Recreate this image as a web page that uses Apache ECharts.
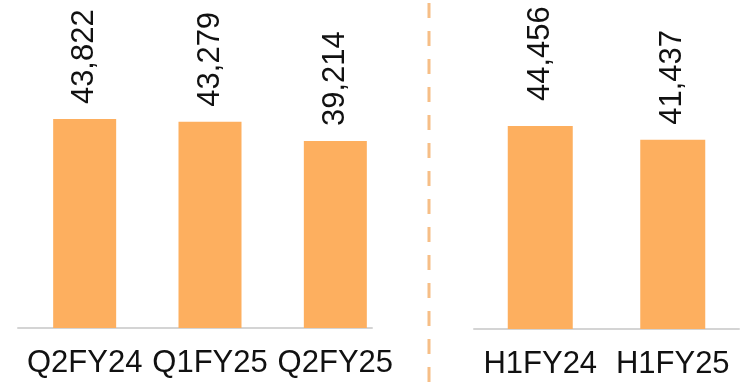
<!DOCTYPE html>
<html>
<head>
<meta charset="utf-8">
<script src="https://cdn.jsdelivr.net/npm/echarts@6/dist/echarts.min.js"></script>
<style>
  html, body { margin: 0; padding: 0; background: #ffffff; }
  #chart { width: 756px; height: 386px; }
</style>
</head>
<body>
<div id="chart"></div>
<script>
// Quarterly figures
const quarterCats = ['Q2FY24', 'Q1FY25', 'Q2FY25'];
const quarterValues = [43822, 43279, 39214];
// Half-year figures
const halfCats = ['H1FY24', 'H1FY25'];
const halfValues = [44456, 41437];

const BAR = '#FDAF5F';
const AXIS = '#d4d4d4';
const FONT = 'Liberation Sans, Arial, sans-serif';

const fmt = v => String(v).replace(/\B(?=(\d{3})+(?!\d))/g, ',');

function valueLabel(distance) {
  return {
    show: true,
    position: 'top',
    rotate: 90,
    align: 'left',
    verticalAlign: 'middle',
    distance: distance,
    fontFamily: FONT,
    fontSize: 31,
    color: '#111111',
    formatter: p => fmt(p.value)
  };
}

const catLabel = {
  interval: 0,
  hideOverlap: false,
  fontFamily: FONT,
  fontSize: 31,
  color: '#111111',
  margin: 20
};

const chart = echarts.init(document.getElementById('chart'), null, { renderer: 'canvas' });

chart.setOption({
  backgroundColor: '#ffffff',
  animation: false,
  grid: [
    { left: 22, width: 376, top: 42, bottom: 58 },
    { left: 474, width: 265, top: 55, bottom: 57 },
    { left: 18, width: 354, top: 42, bottom: 58 }
  ],
  xAxis: [
    {
      gridIndex: 0, type: 'category', data: quarterCats,
      axisLine: { show: false }, axisTick: { show: false },
      axisLabel: catLabel
    },
    {
      gridIndex: 1, type: 'category', data: halfCats,
      axisLine: { show: true, lineStyle: { color: AXIS, width: 2 } },
      axisTick: { show: false },
      axisLabel: catLabel
    },
    {
      gridIndex: 2, type: 'category', data: [''],
      axisLine: { show: true, lineStyle: { color: AXIS, width: 2 } },
      axisTick: { show: false }, axisLabel: { show: false }
    }
  ],
  yAxis: [
    { gridIndex: 0, type: 'value', min: 0, max: 60000, show: false },
    { gridIndex: 1, type: 'value', min: 0, max: 60000, show: false },
    { gridIndex: 2, type: 'value', min: 0, max: 60000, show: false }
  ],
  series: [
    {
      type: 'bar', xAxisIndex: 0, yAxisIndex: 0,
      barWidth: 63,
      itemStyle: { color: BAR },
      label: valueLabel(15),
      data: quarterValues
    },
    {
      type: 'bar', xAxisIndex: 1, yAxisIndex: 1,
      barWidth: 65,
      itemStyle: { color: BAR },
      label: valueLabel(15),
      data: halfValues.map((v, i) => i === 0 ? { value: v, label: { distance: 25 } } : v)
    }
  ],
  graphic: [
    {
      type: 'line',
      shape: { x1: 429, y1: 3, x2: 429, y2: 386 },
      style: { stroke: '#F6BE86', lineWidth: 3, lineDash: [15, 13] },
      silent: true
    }
  ]
});
</script>
</body>
</html>
